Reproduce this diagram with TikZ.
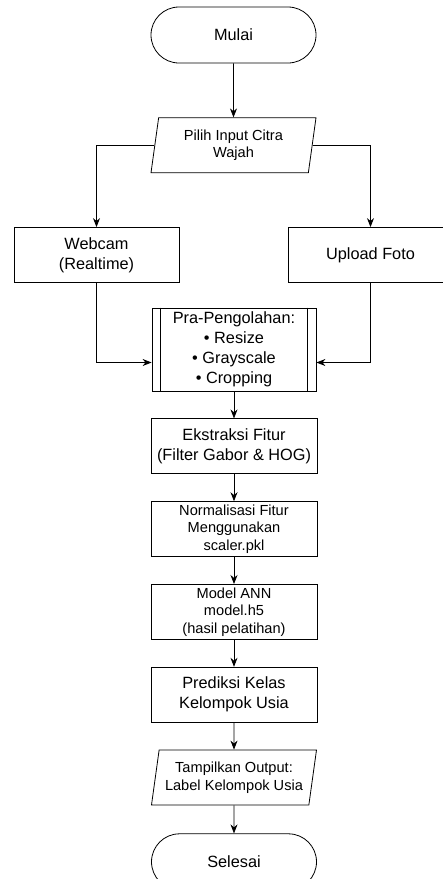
\documentclass[tikz,border=0pt]{standalone}
\usepackage{fontspec}
\setmainfont{Liberation Sans}
\usetikzlibrary{shapes,arrows.meta,positioning,calc}
\tikzstyle{arrow}=[draw, line width=0.8pt, -{Stealth[length=9pt,width=7pt]}]
\tikzstyle{terminal}=[draw, line width=0.8pt, rectangle, rounded corners=28pt, minimum width=165pt, minimum height=56pt, font=\fontsize{16.3}{20}\selectfont]
\tikzstyle{process}=[draw, line width=0.8pt, rectangle, minimum width=166pt, minimum height=55pt, align=center, inner sep=1pt, font=\fontsize{16.3}{20}\selectfont]
\tikzstyle{small}=[font=\fontsize{14.6}{17.5}\selectfont]
\tikzstyle{io}=[draw, line width=0.8pt, trapezium, trapezium left angle=77, trapezium right angle=103, trapezium stretches body=true, minimum width=165pt, minimum height=55pt, align=center, inner sep=1pt, font=\fontsize{14.6}{17.5}\selectfont]

\begin{document}
\begin{tikzpicture}

\useasboundingbox (0,0) rectangle (443pt,-879pt);

\node (mulai) [terminal] at (233.5pt,-35pt) {Mulai};
\node (pilih) [io, below=54pt of mulai] {Pilih Input Citra\\Wajah};
\node (webcam) [process, minimum width=165pt] at (96.5pt,-255pt) {Webcam\\(Realtime)};
\node (upload) [process, minimum width=165pt] at (370.5pt,-255pt) {Upload Foto};
\node (pra) [process, minimum width=164pt, minimum height=83pt] at (234pt,-349.5pt) {Pra-Pengolahan:\\• Resize\\• Grayscale\\• Cropping};
\node (ekstraksi) [process, below=27pt of pra] {Ekstraksi Fitur\\(Filter Gabor \& HOG)};
\node (normalisasi) [process, small, below=27pt of ekstraksi] {Normalisasi Fitur\\Menggunakan\\scaler.pkl};
\node (model) [process, small, below=27pt of normalisasi] {Model ANN\\model.h5\\(hasil pelatihan)};
\node (prediksi) [process, below=27pt of model] {Prediksi Kelas\\Kelompok Usia};
\node (tampil) [io, below=27pt of prediksi] {Tampilkan Output:\\Label Kelompok Usia};
\node (selesai) [terminal, below=28pt of tampil] {Selesai};

\coordinate (praL) at ($(pra.west)+(0,-13pt)$);
\coordinate (praR) at ($(pra.east)+(0,-13pt)$);

\draw [line width=0.8pt] ([xshift=9pt]pra.north west) -- ([xshift=9pt]pra.south west);
\draw [line width=0.8pt] ([xshift=-9pt]pra.north east) -- ([xshift=-9pt]pra.south east);

\draw [arrow] (mulai) -- (pilih);
\draw [arrow] (pilih.west) -| (webcam.north);
\draw [arrow] (pilih.east) -| (upload.north);
\draw [arrow] (webcam.south) |- (praL);
\draw [arrow] (upload.south) |- (praR);
\draw [arrow] (pra) -- (ekstraksi);
\draw [arrow] (ekstraksi) -- (normalisasi);
\draw [arrow] (normalisasi) -- (model);
\draw [arrow] (model) -- (prediksi);
\draw [arrow] (prediksi) -- (tampil);
\draw [arrow] (tampil) -- (selesai);

\end{tikzpicture}
\end{document}
